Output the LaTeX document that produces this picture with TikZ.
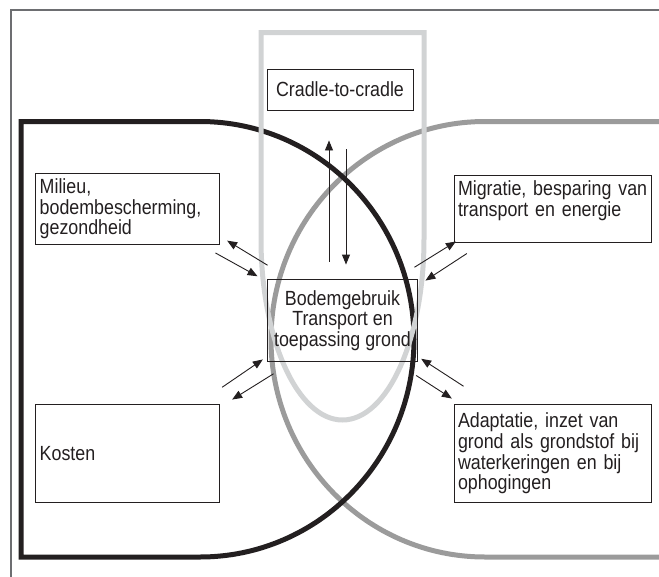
\documentclass[tikz,border=0pt]{standalone}
\usepackage{fontspec}
\setmainfont{Liberation Sans}[FakeStretch=0.87]
\usepackage{tikz}
\usetikzlibrary{arrows.meta}
\definecolor{zwart}{HTML}{231F20}
\definecolor{grijs}{HTML}{9B9B9B}
\definecolor{lichtgrijs}{HTML}{D1D3D4}
\definecolor{kader}{HTML}{6D6E71}

\begin{document}
\begin{tikzpicture}[x=1pt,y=-1pt,
  tekst/.style={font=\fontsize{20.5}{20.8}\selectfont,text=zwart},
  kast/.style={tekst,draw=zwart,line width=0.9pt,inner xsep=4pt,inner ysep=5pt,align=left},
  midden/.style={tekst,draw=zwart,line width=0.9pt,inner sep=2pt,align=center},
  pijl/.style={-{Triangle[length=10pt,width=8pt]},line width=0.9pt,zwart}]
\useasboundingbox (0,0) rectangle (659,576);
\clip (0,0) rectangle (659,576);
\draw[kader,line width=1.2pt] (11,590) -- (11,10) -- (670,10);
% de drie vormen
\draw[grijs,line width=5pt] (680,557) -- (485,557) arc[start angle=90,end angle=270,x radius=214,y radius=217.75] -- (680,121.5);
\draw[zwart,line width=5pt] (200,121.5) arc[start angle=-90,end angle=90,x radius=214,y radius=217.75] -- (21,557) -- (21,121.5) -- cycle;
\draw[lichtgrijs,line width=5pt] (261,239) -- (261,32.5) -- (424,32.5) -- (424,239) arc[start angle=0,end angle=180,x radius=81.5,y radius=181] -- cycle;
% kaders
\node[kast,text width=175.3pt,minimum height=65.7pt] (milieu) at (127.35,208.85) {Milieu,\\bodembescherming,\\gezondheid};
\node[kast,text width=189.3pt,minimum height=65.7pt] (migratie) at (552.65,208.85) {Migratie, besparing van\\transport en energie\\\mbox{}};
\node[kast,text width=175.3pt,minimum height=98.7pt] (kosten) at (127.35,453.35) {Kosten};
\node[kast,text width=189.3pt,minimum height=98.7pt] (adaptatie) at (552.65,453.35) {Adaptatie, inzet van\\grond als grondstof bij\\waterkeringen en bij\\ophogingen};
\node[midden,minimum width=149.6pt,minimum height=82.4pt] (bodem) at (342.5,320.5) {Bodemgebruik\\Transport en\\toepassing grond};
\node[midden,minimum width=146pt,minimum height=41pt] (cradle) at (340,89.5) {Cradle-to-cradle};
% pijlen
\draw[pijl] ([shift={(0.3,-13.6)}]bodem.north west) -- ([shift={(7.7,-4)}]milieu.south east);
\draw[pijl] ([shift={(-4,8.3)}]milieu.south east) -- ([shift={(-9.7,-2.6)}]bodem.north west);
\draw[pijl] ([shift={(2.7,-16.3)}]kosten.north east) -- ([shift={(-4.4,-2.7)}]bodem.south west);
\draw[pijl] ([shift={(6.3,11.6)}]bodem.south west) -- ([shift={(12.7,-4)}]kosten.north east);
\draw[pijl] ([shift={(-3.3,-11.6)}]bodem.north east) -- ([shift={(2.3,-1)}]migratie.south west);
\draw[pijl] ([shift={(13.3,11)}]migratie.south west) -- ([shift={(7.7,1.7)}]bodem.north east);
\draw[pijl] ([shift={(10,-17.3)}]adaptatie.north west) -- ([shift={(3.4,-3.4)}]bodem.south east);
\draw[pijl] ([shift={(-1.6,13.3)}]bodem.south east) -- ([shift={(-1.7,-5)}]adaptatie.north west);
\draw[pijl] ([shift={(-13.5,-17.3)}]bodem.north) -- ([shift={(-11,30)}]cradle.south);
\draw[pijl] ([shift={(6,39)}]cradle.south) -- ([shift={(3.5,-14.3)}]bodem.north);
\end{tikzpicture}
\end{document}
